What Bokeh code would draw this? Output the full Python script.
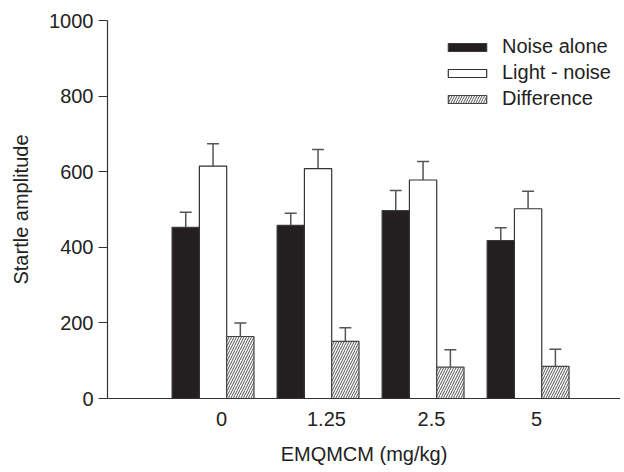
from bokeh.plotting import figure
from bokeh.models import ColumnDataSource, Whisker, TeeHead, FixedTicker, Legend, LegendItem, Range1d
from bokeh.embed import file_html
from bokeh.resources import INLINE

doses = ["0", "1.25", "2.5", "5"]
noise_alone = [453, 458, 497, 418]
noise_alone_err = [40, 32, 53, 34]
light_noise = [615, 608, 578, 502]
light_noise_err = [59, 51, 49, 46]
difference = [164, 151, 83, 85]
difference_err = [36, 36, 46, 45]
y_ticks = [0, 200, 400, 600, 800, 1000]

FONT = "Liberation Sans"
FS = "20px"
idx = list(range(len(doses)))
bw = 0.26

p = figure(width=620, height=470, output_backend="svg", toolbar_location=None,
           x_range=Range1d(-1.005, 3.88), y_range=Range1d(0, 1000),
           min_border_left=107, min_border_top=20, min_border_bottom=72, min_border_right=0)
p.outline_line_color = None
p.xgrid.visible = False
p.ygrid.visible = False
p.background_fill_color = "white"

series = [
    ("Noise alone", noise_alone, noise_alone_err, -bw, dict(fill_color="#231f20", line_color="#3a3a3a")),
    ("Light - noise", light_noise, light_noise_err, 0.0, dict(fill_color="white", line_color="#333333")),
    ("Difference", difference, difference_err, bw, dict(fill_color="white", line_color="#444444",
                                                        hatch_pattern="/", hatch_color="#222222",
                                                        hatch_scale=5, hatch_weight=0.8)),
]

items = []
for name, vals, errs, off, style in series:
    src = ColumnDataSource(dict(
        x=[i + off for i in idx], top=vals,
        upper=[v + e for v, e in zip(vals, errs)]))
    r = p.vbar(x="x", top="top", width=bw, bottom=0, source=src, line_width=1.2, **style)
    items.append(LegendItem(label=name, renderers=[r]))
    w = Whisker(source=src, base="x", upper="upper", lower="top", dimension="height",
                line_color="#555555", line_width=1.5,
                upper_head=TeeHead(size=12, line_color="#555555", line_width=1.5),
                lower_head=None)
    p.add_layout(w)

legend = Legend(items=items, location=(336, 288),
                label_text_font=FONT, label_text_font_size=FS, label_text_color="#222222",
                glyph_width=48, glyph_height=10, spacing=3, label_standoff=11,
                border_line_color=None, background_fill_alpha=0,
                margin=0, padding=0, label_height=21)
p.add_layout(legend)

# x axis
p.xaxis.ticker = FixedTicker(ticks=[i + 0.08 for i in idx])
p.xaxis.major_label_overrides = {i + 0.08: d for i, d in zip(idx, doses)}
p.xaxis.major_tick_out = 0
p.xaxis.major_tick_in = 0
p.xaxis.minor_tick_out = 0
p.xaxis.minor_tick_in = 0
p.xaxis.axis_label = "EMQMCM (mg/kg)"
p.xaxis.major_label_standoff = 13
p.xaxis.axis_label_standoff = 14

# y axis
p.yaxis.ticker = FixedTicker(ticks=y_ticks)
p.yaxis.major_tick_out = 9
p.yaxis.major_tick_in = 0
p.yaxis.minor_tick_out = 0
p.yaxis.minor_tick_in = 0
p.yaxis.major_label_standoff = 5
p.yaxis.axis_label = "Startle amplitude"
p.yaxis.axis_label_standoff = 14

for ax in (p.xaxis, p.yaxis):
    ax.axis_line_color = "#333333"
    ax.axis_line_width = 1.2
    ax.major_tick_line_color = "#333333"
    ax.major_label_text_font = FONT
    ax.major_label_text_font_size = FS
    ax.major_label_text_color = "#222222"
    ax.axis_label_text_font = FONT
    ax.axis_label_text_font_style = "normal"
    ax.axis_label_text_color = "#222222"
    ax.axis_label_text_font_size = FS

open("out.html", "w").write(file_html(p, INLINE))
